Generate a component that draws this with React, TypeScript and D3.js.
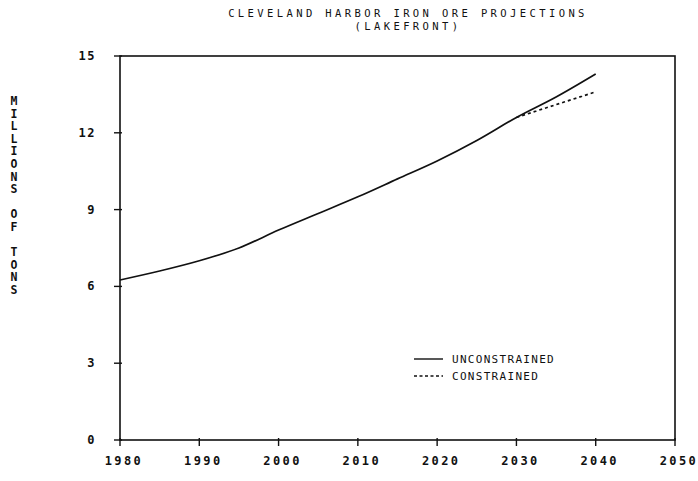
import React from "react";
import * as d3 from "d3";

const years = [1980, 1985, 1990, 1995, 2000, 2005, 2010, 2015, 2020, 2025, 2030, 2035, 2040];
const unconstrained = [6.25, 6.6, 7.0, 7.5, 8.2, 8.85, 9.5, 10.2, 10.9, 11.7, 12.6, 13.4, 14.3];
const constrainedYears = [2030, 2035, 2040];
const constrained = [12.6, 13.1, 13.6];
const xTicks = [1980, 1990, 2000, 2010, 2020, 2030, 2040, 2050];
const yTicks = [0, 3, 6, 9, 12, 15];
const titleLines = ["CLEVELAND HARBOR IRON ORE PROJECTIONS", "(LAKEFRONT)"];
const yLabel = "MILLIONS OF TONS";
const legendItems = [
  { label: "UNCONSTRAINED", dash: "none" },
  { label: "CONSTRAINED", dash: "3,2.5" },
];

const W = 698;
const H = 481;
const left = 120;
const right = 675;
const top = 56;
const bottom = 440;
const font = "'DejaVu Sans Mono', monospace";

export default function App() {
  const x = d3.scaleLinear().domain([1980, 2050]).range([left, right]);
  const y = d3.scaleLinear().domain([0, 15]).range([bottom, top]);
  const line = d3
    .line<[number, number]>()
    .x((d) => x(d[0]))
    .y((d) => y(d[1]))
    .curve(d3.curveMonotoneX);

  const uPts = years.map((yr, i) => [yr, unconstrained[i]] as [number, number]);
  const cPts = constrainedYears.map((yr, i) => [yr, constrained[i]] as [number, number]);

  // vertical stacked axis title, blank slots for spaces
  const letters = yLabel.split("");

  return (
    <svg
      width={W}
      height={H}
      style={{ position: "absolute", left: 0, top: 0, background: "#fff" }}
    >
      <rect width={W} height={H} fill="#fff" />
      {titleLines.map((t, i) => (
        <text
          key={t}
          x={408}
          y={17 + i * 13}
          textAnchor="middle"
          fontFamily={font}
          fontSize={10.5}
          letterSpacing={3.4}
          fill="#111"
        >
          {t}
        </text>
      ))}

      {/* frame */}
      <rect
        x={left}
        y={top}
        width={right - left}
        height={bottom - top}
        fill="none"
        stroke="#111"
        strokeWidth={1.6}
      />

      {/* y ticks and labels */}
      {yTicks.map((v) => (
        <g key={v}>
          <line x1={left - 6} x2={left + 2} y1={y(v)} y2={y(v)} stroke="#111" strokeWidth={1.4} />
          <text
            x={96}
            y={y(v) + 4}
            textAnchor="end"
            fontFamily={font}
            fontWeight="bold"
            fontSize={12}
            letterSpacing={1.5}
            fill="#111"
          >
            {v}
          </text>
        </g>
      ))}

      {/* x ticks and labels */}
      {xTicks.map((v) => (
        <g key={v}>
          <line x1={x(v)} x2={x(v)} y1={bottom - 2} y2={bottom + 6} stroke="#111" strokeWidth={1.4} />
          <text
            x={x(v) + 4}
            y={bottom + 25}
            textAnchor="middle"
            fontFamily={font}
            fontWeight="bold"
            fontSize={12}
            letterSpacing={2.4}
            fill="#111"
          >
            {v}
          </text>
        </g>
      ))}

      {/* stacked y label */}
      {letters.map((ch, i) =>
        ch === " " ? null : (
          <text
            key={i}
            x={14}
            y={105 + i * 12.6}
            textAnchor="middle"
            fontFamily={font}
            fontWeight="bold"
            fontSize={11.5}
            fill="#111"
          >
            {ch}
          </text>
        )
      )}

      {/* series */}
      <path d={line(uPts) ?? ""} fill="none" stroke="#111" strokeWidth={1.7} />
      <path d={line(cPts) ?? ""} fill="none" stroke="#111" strokeWidth={1.7} strokeDasharray="3,3" />

      {/* legend */}
      {legendItems.map((it, i) => (
        <g key={it.label}>
          <line
            x1={414}
            x2={443}
            y1={359 + i * 17}
            y2={359 + i * 17}
            stroke="#111"
            strokeWidth={1.4}
            strokeDasharray={it.dash}
          />
          <text
            x={452}
            y={363 + i * 17}
            fontFamily={font}
            fontSize={11}
            letterSpacing={1.3}
            fill="#111"
          >
            {it.label}
          </text>
        </g>
      ))}
    </svg>
  );
}
